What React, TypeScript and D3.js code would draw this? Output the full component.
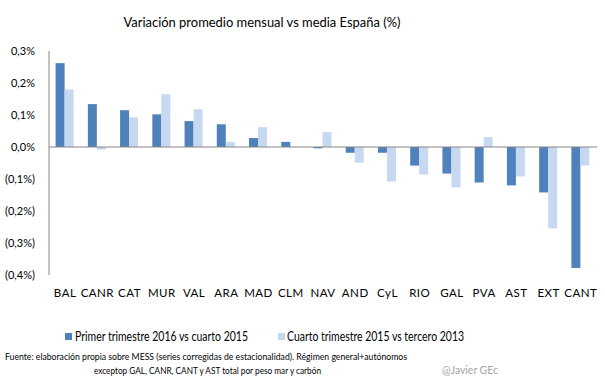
import React from "react";
import * as d3 from "d3";

const categories = ["BAL","CANR","CAT","MUR","VAL","ARA","MAD","CLM","NAV","AND","CyL","RIO","GAL","PVA","AST","EXT","CANT"];
const serie1 = [0.262,0.134,0.115,0.102,0.081,0.071,0.028,0.016,-0.004,-0.018,-0.018,-0.058,-0.083,-0.111,-0.120,-0.142,-0.378];
const serie2 = [0.180,-0.008,0.093,0.165,0.118,0.016,0.062,0.000,0.047,-0.049,-0.108,-0.086,-0.126,0.031,-0.092,-0.254,-0.058];
const seriesNames = ["Primer trimestre 2016 vs cuarto 2015","Cuarto trimestre 2015 vs tercero 2013"];
const yTicks = [0.3,0.2,0.1,0,-0.1,-0.2,-0.3,-0.4];
const title = "Variación promedio  mensual vs media España (%)";
const source1 = "Fuente: elaboración propia sobre MESS (series corregidas de estacionalidad). Régimen general+autónomos";
const source2 = "exceptop GAL, CANR, CANT y AST total por peso mar y carbón";
const credit = "@Javier GEc";

const colors = ["#4F81BD", "#C6D9F1"];
const font = "Lato, 'Open Sans', sans-serif";

export default function App() {
  const W = 605, H = 379;
  const x0 = 49, x1 = 597;
  const y = d3.scaleLinear().domain([-0.4, 0.3]).range([275, 51]);
  const x = d3.scaleBand().domain(categories).range([x0, x1]).paddingInner(0).paddingOuter(0);
  const bw = 9;
  const fmt = (v: number) => {
    const s = Math.abs(v).toFixed(1).replace(".", ",") + "%";
    return v < 0 ? `(${s})` : s;
  };
  return (
    <svg width={W} height={H} style={{ position: "absolute", left: 0, top: 0, background: "#fff" }} fontFamily={font}>
      <rect width={W} height={H} fill="#fff" />
      <text x={262} y={27} textAnchor="middle" fontSize={14} fill="#000" textLength={277} lengthAdjust="spacingAndGlyphs">{title}</text>
      {yTicks.map((t) => (
        <text key={t} x={35} y={y(t) + 4} textAnchor="end" fontSize={11} fill="#000">{fmt(t)}</text>
      ))}
      {categories.map((c, i) => {
        const cx = (x(c) as number) + x.bandwidth() / 2;
        return (
          <g key={c}>
            {[serie1[i], serie2[i]].map((v, k) => (
              <rect key={k} x={cx - bw + k * bw - 0.5} y={Math.min(y(v), y(0))} width={bw} height={Math.abs(y(v) - y(0))} fill={colors[k]} />
            ))}
            <text x={cx} y={297} textAnchor="middle" fontSize={11.5} fill="#000" letterSpacing={0.5}>{c}</text>
          </g>
        );
      })}
      <line x1={x0} x2={x0} y1={y(0.3)} y2={y(-0.4)} stroke="#868686" strokeWidth={1} />
      <line x1={x0} x2={x1} y1={y(0)} y2={y(0)} stroke="#868686" strokeWidth={1} />
      {/* legend */}
      <rect x={65} y={333} width={7} height={7} fill={colors[0]} />
      <text x={75} y={341} fontSize={13} fill="#000" textLength={173} lengthAdjust="spacingAndGlyphs">{seriesNames[0]}</text>
      <rect x={278} y={333} width={7} height={7} fill={colors[1]} />
      <text x={287} y={341} fontSize={13} fill="#000" textLength={177} lengthAdjust="spacingAndGlyphs">{seriesNames[1]}</text>
      {/* footer */}
      <text x={5} y={360} fontSize={10} fill="#000" textLength={402} lengthAdjust="spacingAndGlyphs">{source1}</text>
      <text x={94} y={374} fontSize={10} fill="#000" textLength={227} lengthAdjust="spacingAndGlyphs">{source2}</text>
      <text x={442} y={374} fontSize={12} fill="#a6a6a6" textLength={56} lengthAdjust="spacingAndGlyphs">{credit}</text>
    </svg>
  );
}
